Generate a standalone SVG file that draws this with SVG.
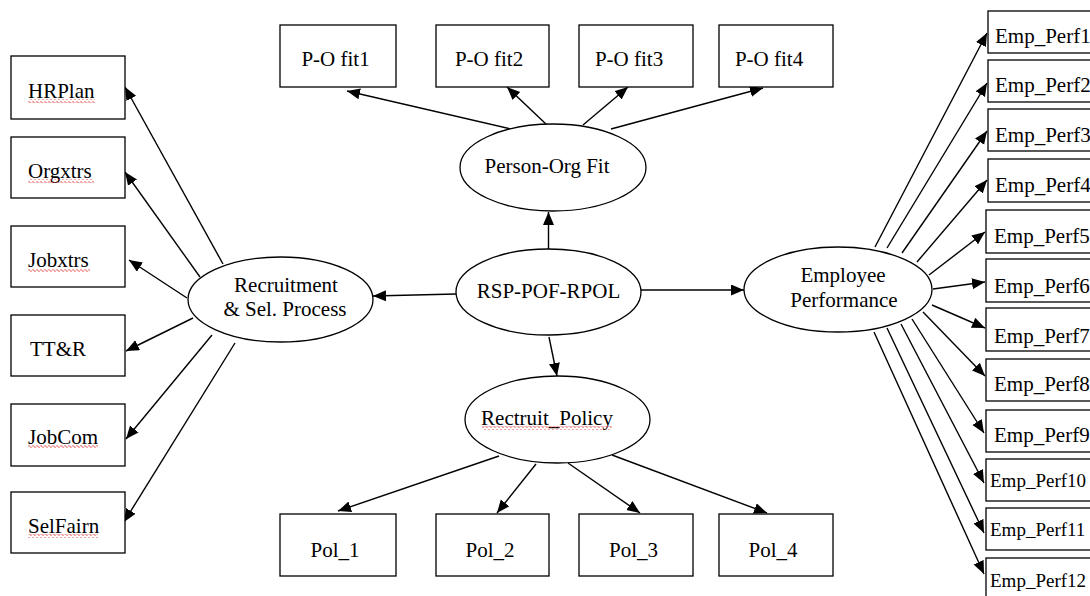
<svg xmlns="http://www.w3.org/2000/svg" width="1090" height="596" viewBox="0 0 1090 596">
<style>
.box{fill:#fff;stroke:#000;stroke-width:1.3}
.ell{fill:#fff;stroke:#000;stroke-width:1.3}
.t{font-family:"Liberation Serif","Times New Roman",serif;font-size:21px;fill:#000}
.s{font-size:19px}
.c{text-anchor:middle}
.e{stroke:#000;stroke-width:1.4;fill:none;marker-end:url(#ah)}
.sq{fill:url(#wave)}
</style>
<defs>
<marker id="ah" markerUnits="userSpaceOnUse" markerWidth="14" markerHeight="12" refX="13" refY="5.5" orient="auto">
<path d="M0,0 L13,5.5 L0,11 z" fill="#000"/>
</marker>
<pattern id="wave" width="4" height="4" patternUnits="userSpaceOnUse">
<path d="M0,2.5 Q1,0.5 2,2.5 T4,2.5" fill="none" stroke="#e02020" stroke-width="0.9"/>
</pattern>
</defs>
<rect width="1090" height="596" fill="#fff"/>

<g id="connectors">
<line class="e" x1="548.5" y1="249" x2="548.5" y2="212"/>
<line class="e" x1="456" y1="294" x2="373" y2="296"/>
<line class="e" x1="641" y1="290" x2="744" y2="290"/>
<line class="e" x1="549" y1="337" x2="557" y2="376"/>

<line class="e" x1="515" y1="130" x2="347" y2="91"/>
<line class="e" x1="547" y1="125" x2="507" y2="87"/>
<line class="e" x1="583" y1="125" x2="628" y2="87"/>
<line class="e" x1="611" y1="129" x2="763" y2="88"/>

<line class="e" x1="499" y1="456" x2="338" y2="511"/>
<line class="e" x1="536" y1="464" x2="497" y2="513"/>
<line class="e" x1="568" y1="463" x2="640" y2="513"/>
<line class="e" x1="612" y1="455" x2="767" y2="513"/>

<line class="e" x1="223" y1="264" x2="125" y2="87"/>
<line class="e" x1="200" y1="277" x2="125" y2="172"/>
<line class="e" x1="187" y1="298" x2="129" y2="260"/>
<line class="e" x1="193" y1="318" x2="126" y2="351"/>
<line class="e" x1="212" y1="335" x2="126" y2="439"/>
<line class="e" x1="235" y1="343" x2="124" y2="522"/>

<line class="e" x1="875" y1="247" x2="987" y2="33"/>
<line class="e" x1="887" y1="248" x2="987" y2="83"/>
<line class="e" x1="902" y1="253" x2="987" y2="131"/>
<line class="e" x1="917" y1="262" x2="987" y2="180"/>
<line class="e" x1="929" y1="275" x2="985" y2="232"/>
<line class="e" x1="933" y1="289" x2="985" y2="282"/>
<line class="e" x1="932" y1="305" x2="985" y2="328"/>
<line class="e" x1="923" y1="312" x2="985" y2="376"/>
<line class="e" x1="912" y1="319" x2="984" y2="433"/>
<line class="e" x1="901" y1="324" x2="984" y2="483"/>
<line class="e" x1="887" y1="328" x2="984" y2="533"/>
<line class="e" x1="874" y1="332" x2="984" y2="574"/>
</g>

<g id="rsp-pof-rpol"><ellipse class="ell" cx="548.5" cy="292" rx="92.5" ry="43"/><text class="t c" x="548.5" y="298">RSP-POF-RPOL</text></g>
<g id="person-org-fit"><ellipse class="ell" cx="553" cy="167.5" rx="93" ry="43.5"/><text class="t c" x="547" y="173">Person-Org Fit</text></g>
<g id="rectruit-policy"><ellipse class="ell" cx="557.5" cy="419.5" rx="92.5" ry="43.5"/><text class="t c" x="547" y="425">Rectruit_Policy</text><rect class="sq" x="482" y="426" width="130" height="4"/></g>
<g id="recruitment"><ellipse class="ell" cx="280.5" cy="299.5" rx="92.5" ry="42.5"/><text class="t c" x="286" y="292">Recruitment</text><text class="t c" x="285" y="316">&amp; Sel. Process</text></g>
<g id="employee-performance"><ellipse class="ell" cx="838" cy="289.5" rx="94" ry="42.5"/><text class="t c" x="843" y="282">Employee</text><text class="t c" x="844" y="307">Performance</text></g>

<g id="po-fit1"><rect class="box" x="280" y="25" width="116" height="62"/><text class="t c" x="335.5" y="66">P-O fit1</text></g>
<g id="po-fit2"><rect class="box" x="436" y="25" width="113" height="62"/><text class="t c" x="489" y="66">P-O fit2</text></g>
<g id="po-fit3"><rect class="box" x="579" y="25" width="114" height="62"/><text class="t c" x="629" y="66">P-O fit3</text></g>
<g id="po-fit4"><rect class="box" x="719" y="25" width="114" height="62"/><text class="t c" x="769" y="66">P-O fit4</text></g>

<g id="pol-1"><rect class="box" x="280" y="514" width="116" height="62"/><text class="t c" x="335" y="557">Pol_1</text></g>
<g id="pol-2"><rect class="box" x="436" y="514" width="113" height="62"/><text class="t c" x="490" y="557">Pol_2</text></g>
<g id="pol-3"><rect class="box" x="579" y="514" width="114" height="62"/><text class="t c" x="633.5" y="557">Pol_3</text></g>
<g id="pol-4"><rect class="box" x="719" y="514" width="114" height="62"/><text class="t c" x="773" y="557">Pol_4</text></g>

<g id="hrplan"><rect class="box" x="11" y="56" width="114" height="63"/><text class="t" x="28" y="98">HRPlan</text><rect class="sq" x="28" y="99" width="67" height="4"/></g>
<g id="orgxtrs"><rect class="box" x="11" y="137" width="114" height="61"/><text class="t" x="28" y="178">Orgxtrs</text><rect class="sq" x="28" y="179" width="66" height="4"/></g>
<g id="jobxtrs"><rect class="box" x="11" y="226" width="114" height="61"/><text class="t" x="28" y="267">Jobxtrs</text><rect class="sq" x="28" y="268" width="62" height="4"/></g>
<g id="ttr"><rect class="box" x="11" y="315" width="114" height="61"/><text class="t" x="30" y="356">TT&amp;R</text></g>
<g id="jobcom"><rect class="box" x="11" y="404" width="114" height="62"/><text class="t" x="28" y="444">JobCom</text><rect class="sq" x="28" y="445" width="70" height="4"/></g>
<g id="selfairn"><rect class="box" x="11" y="492" width="114" height="61"/><text class="t" x="28" y="533">SelFairn</text><rect class="sq" x="28" y="534" width="70" height="4"/></g>

<g id="emp-perf1"><rect class="box" x="988" y="11" width="120" height="42"/><text class="t" x="995" y="43">Emp_Perf1</text></g>
<g id="emp-perf2"><rect class="box" x="988" y="60" width="120" height="42"/><text class="t" x="995" y="92">Emp_Perf2</text></g>
<g id="emp-perf3"><rect class="box" x="988" y="109" width="120" height="42"/><text class="t" x="995" y="142">Emp_Perf3</text></g>
<g id="emp-perf4"><rect class="box" x="988" y="159" width="120" height="43"/><text class="t" x="995" y="192">Emp_Perf4</text></g>
<g id="emp-perf5"><rect class="box" x="986" y="210" width="120" height="43"/><text class="t" x="994" y="243">Emp_Perf5</text></g>
<g id="emp-perf6"><rect class="box" x="986" y="259" width="120" height="43"/><text class="t" x="994" y="293">Emp_Perf6</text></g>
<g id="emp-perf7"><rect class="box" x="986" y="308" width="120" height="43"/><text class="t" x="994" y="343">Emp_Perf7</text></g>
<g id="emp-perf8"><rect class="box" x="986" y="359" width="120" height="42"/><text class="t" x="994" y="391">Emp_Perf8</text></g>
<g id="emp-perf9"><rect class="box" x="986" y="410" width="120" height="42"/><text class="t" x="994" y="442">Emp_Perf9</text></g>
<g id="emp-perf10"><rect class="box" x="986" y="459" width="120" height="42"/><text class="t s" x="990" y="487">Emp_Perf10</text></g>
<g id="emp-perf11"><rect class="box" x="986" y="508" width="120" height="42"/><text class="t s" x="990" y="536">Emp_Perf11</text></g>
<g id="emp-perf12"><rect class="box" x="986" y="558" width="120" height="50"/><text class="t s" x="990" y="587">Emp_Perf12</text></g>
</svg>
